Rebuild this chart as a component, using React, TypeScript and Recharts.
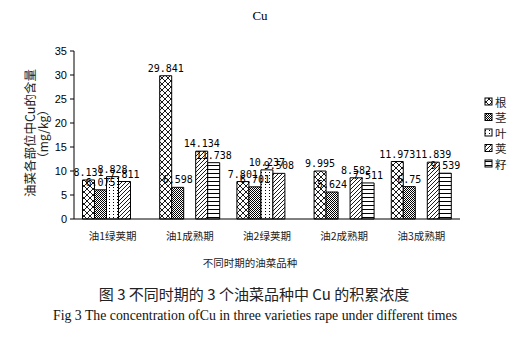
import React from 'react';
import { BarChart, Bar, XAxis, YAxis, LabelList } from 'recharts';

const categories = ['油1绿荚期', '油1成熟期', '油2绿荚期', '油2成熟期', '油3成熟期'];
const seriesNames = ['根', '茎', '叶', '荚', '籽'];
const rootValues: (number | null)[] = [8.131, 29.841, 7.801, 9.995, 11.973];
const stemValues: (number | null)[] = [6.075, 6.598, 6.701, 5.624, 6.75];
const leafValues: (number | null)[] = [8.828, null, 10.237, null, null];
const podValues: (number | null)[] = [7.811, 14.134, 9.508, 8.582, 11.839];
const seedValues: (number | null)[] = [null, 11.738, null, 7.511, 9.539];
const yTicks = [0, 5, 10, 15, 20, 25, 30, 35];
const boundaryTicks = [0, 1, 2, 3, 4, 5];

const seriesValues = [rootValues, stemValues, leafValues, podValues, seedValues];
const keys = ['s0', 's1', 's2', 's3', 's4'];
const patternIds = ['pCross', 'pCheck', 'pDots', 'pDiag', 'pHoriz'];

const data = categories.map((c, i) => {
  const row: Record<string, any> = { name: c, idx: i + 0.5 };
  keys.forEach((k, j) => {
    row[k] = seriesValues[j][i];
  });
  return row;
});

const Patterns = () => (
  <svg width={0} height={0} style={{ position: 'absolute' }}>
    <defs>
      <pattern id="pCross" width={6} height={6} patternUnits="userSpaceOnUse">
        <rect width={6} height={6} fill="#fff" />
        <path d="M0,0 L6,6 M6,0 L0,6" stroke="#000" strokeWidth={0.9} />
      </pattern>
      <pattern id="pCheck" width={2} height={2} patternUnits="userSpaceOnUse">
        <rect width={2} height={2} fill="#fff" />
        <rect x={0} y={0} width={1} height={1} fill="#000" />
        <rect x={1} y={1} width={1} height={1} fill="#000" />
      </pattern>
      <pattern id="pDots" width={4} height={3} patternUnits="userSpaceOnUse">
        <rect width={4} height={3} fill="#fff" />
        <rect x={1} y={1} width={1} height={1} fill="#000" />
      </pattern>
      <pattern id="pDiag" width={4} height={4} patternUnits="userSpaceOnUse">
        <rect width={4} height={4} fill="#fff" />
        <path d="M0,4 L4,0 M-1,1 L1,-1 M3,5 L5,3" stroke="#000" strokeWidth={0.9} />
      </pattern>
      <pattern id="pHoriz" width={4} height={4} patternUnits="userSpaceOnUse">
        <rect width={4} height={4} fill="#fff" />
        <rect x={0} y={1} width={4} height={1} fill="#000" />
      </pattern>
    </defs>
  </svg>
);

const fmt = (v: any) => (v === null || v === undefined ? '' : String(v));

export default function App() {
  return (
    <div style={{ position: 'absolute', left: 0, top: 0, width: 531, height: 360, background: '#fff' }}>
      <Patterns />
      <BarChart
        width={531}
        height={360}
        data={data}
        margin={{ top: 51, right: 71, bottom: 110, left: 34 }}
        barCategoryGap="11%"
        barGap={0}
      >
        <XAxis
          xAxisId="grid"
          type="number"
          dataKey="idx"
          domain={[0, 5]}
          ticks={boundaryTicks}
          tick={false}
          axisLine={false}
          tickLine={{ stroke: '#000' }}
          tickSize={4}
          height={1}
          allowDataOverflow
        />
        <XAxis
          dataKey="name"
          interval={0}
          tickLine={false}
          axisLine={{ stroke: '#000' }}
          tickMargin={8}
          height={30}
          tick={{ fontSize: 10.5, fill: '#222', fontFamily: 'Noto Sans CJK SC' }}
        />
        <YAxis
          domain={[0, 35]}
          ticks={yTicks}
          width={40}
          axisLine={{ stroke: '#000' }}
          tickLine={{ stroke: '#000' }}
          tickSize={4}
          tickMargin={3}
          tick={{ fontSize: 11, fill: '#000', fontFamily: 'Liberation Sans' }}
        />
        {keys.map((k, j) => (
          <Bar
            key={k}
            dataKey={k}
            name={seriesNames[j]}
            fill={`url(#${patternIds[j]})`}
            stroke="#000"
            strokeWidth={1}
            isAnimationActive={false}
          >
            <LabelList
              dataKey={k}
              position="top"
              offset={4}
              formatter={fmt}
              style={{ fontSize: 10, fill: '#000', fontFamily: 'DejaVu Sans Mono' }}
            />
          </Bar>
        ))}
      </BarChart>
      <svg
        width={531}
        height={360}
        style={{ position: 'absolute', left: 0, top: 0, pointerEvents: 'none' }}
      >
        <text x={260} y={20} textAnchor="middle" fontSize={13} fontFamily="Liberation Serif" fill="#000">
          Cu
        </text>
        <text
          transform="translate(35,133) rotate(-90)"
          textAnchor="middle"
          fontSize={12.5}
          fontFamily="Noto Sans CJK SC"
          fill="#222"
        >
          油菜各部位中Cu的含量
        </text>
        <text
          transform="translate(48,134) rotate(-90)"
          textAnchor="middle"
          fontSize={12}
          fontFamily="Noto Sans CJK SC"
          fill="#222"
        >
          （mg/kg）
        </text>
        {seriesNames.map((n, j) => (
          <g key={n}>
            <rect x={485} y={98 + j * 15.5} width={7} height={7} fill={`url(#${patternIds[j]})`} stroke="#000" strokeWidth={1} />
            <text x={495} y={106.5 + j * 15.5} fontSize={11.5} fontFamily="Noto Sans CJK SC" fill="#222">
              {n}
            </text>
          </g>
        ))}
        <text x={250} y={267} textAnchor="middle" fontSize={10.5} fontFamily="Noto Sans CJK SC" fill="#222">
          不同时期的油菜品种
        </text>
        <text x={254} y={300} textAnchor="middle" fontSize={15} fontFamily="Noto Sans CJK SC" fill="#222">
          图 3  不同时期的 3 个油菜品种中 Cu 的积累浓度
        </text>
        <text
          x={53}
          y={320}
          fontSize={15}
          fontFamily="Liberation Serif"
          fill="#111"
          textLength={404}
          lengthAdjust="spacingAndGlyphs"
        >
          Fig 3 The concentration ofCu in three varieties rape under different times
        </text>
      </svg>
    </div>
  );
}
